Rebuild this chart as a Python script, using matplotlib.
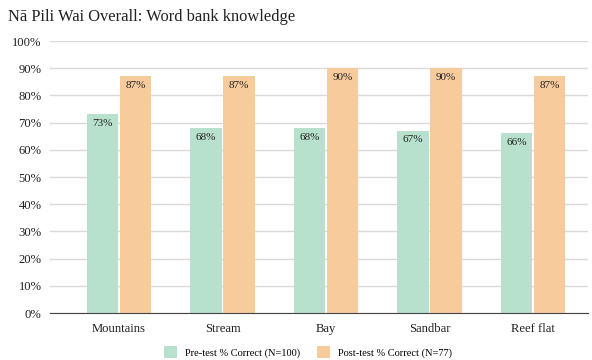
import matplotlib.pyplot as plt
import numpy as np

plt.rcParams['font.family'] = ['Liberation Serif', 'DejaVu Serif']

categories = ["Mountains", "Stream", "Bay", "Sandbar", "Reef flat"]
pre_test = [73, 68, 68, 67, 66]
post_test = [87, 87, 90, 90, 87]
pre_label = "Pre-test % Correct (N=100)"
post_label = "Post-test % Correct (N=77)"

green = "#b7e1cd"
orange = "#f8cb9c"

fig = plt.figure(figsize=(5.92, 3.6), dpi=100)
ax = fig.add_axes([50 / 592, 1 - 313 / 360, 538 / 592, 272 / 360])

x = np.arange(len(categories))
w = 0.305
b1 = ax.bar(x - 0.16, pre_test, w, color=green, label=pre_label, zorder=3)
b2 = ax.bar(x + 0.16, post_test, w, color=orange, label=post_label, zorder=3)

# value labels inside the top of each bar
for bars, vals in ((b1, pre_test), (b2, post_test)):
    for r, v in zip(bars, vals):
        ax.text(r.get_x() + r.get_width() / 2, v - 3.3, f"{v}%",
                ha="center", va="center", fontsize=8, color="#222222", zorder=4)

ax.set_xlim(-0.667, 4.53)
ax.set_ylim(0, 100)
ax.set_yticks(range(0, 101, 10))
ax.set_yticklabels([f"{t}%" for t in range(0, 101, 10)])
ax.set_xticks(x)
ax.set_xticklabels(categories)
ax.tick_params(axis="both", length=0, labelsize=9.1, colors="#222222")
ax.tick_params(axis="x", pad=7)
ax.tick_params(axis="y", pad=6)

ax.grid(axis="y", color="#d9d9d9", linewidth=1, zorder=0)
ax.set_axisbelow(True)
for s in ("top", "right", "left"):
    ax.spines[s].set_visible(False)
ax.spines["bottom"].set_color("#444444")
ax.spines["bottom"].set_zorder(5)

fig.text(8 / 592, 1 - 17 / 360, "Nā Pili Wai Overall: Word bank knowledge",
         fontsize=11.9, va="center", ha="left", color="#222222")

fig.legend(handles=[b1, b2], loc="center", bbox_to_anchor=(308 / 592, 1 - 352 / 360),
           ncol=2, frameon=False, fontsize=7.5, handlelength=1.3, handleheight=1.3,
           columnspacing=1.55, handletextpad=0.77)

fig.savefig("out.png", dpi=100)
